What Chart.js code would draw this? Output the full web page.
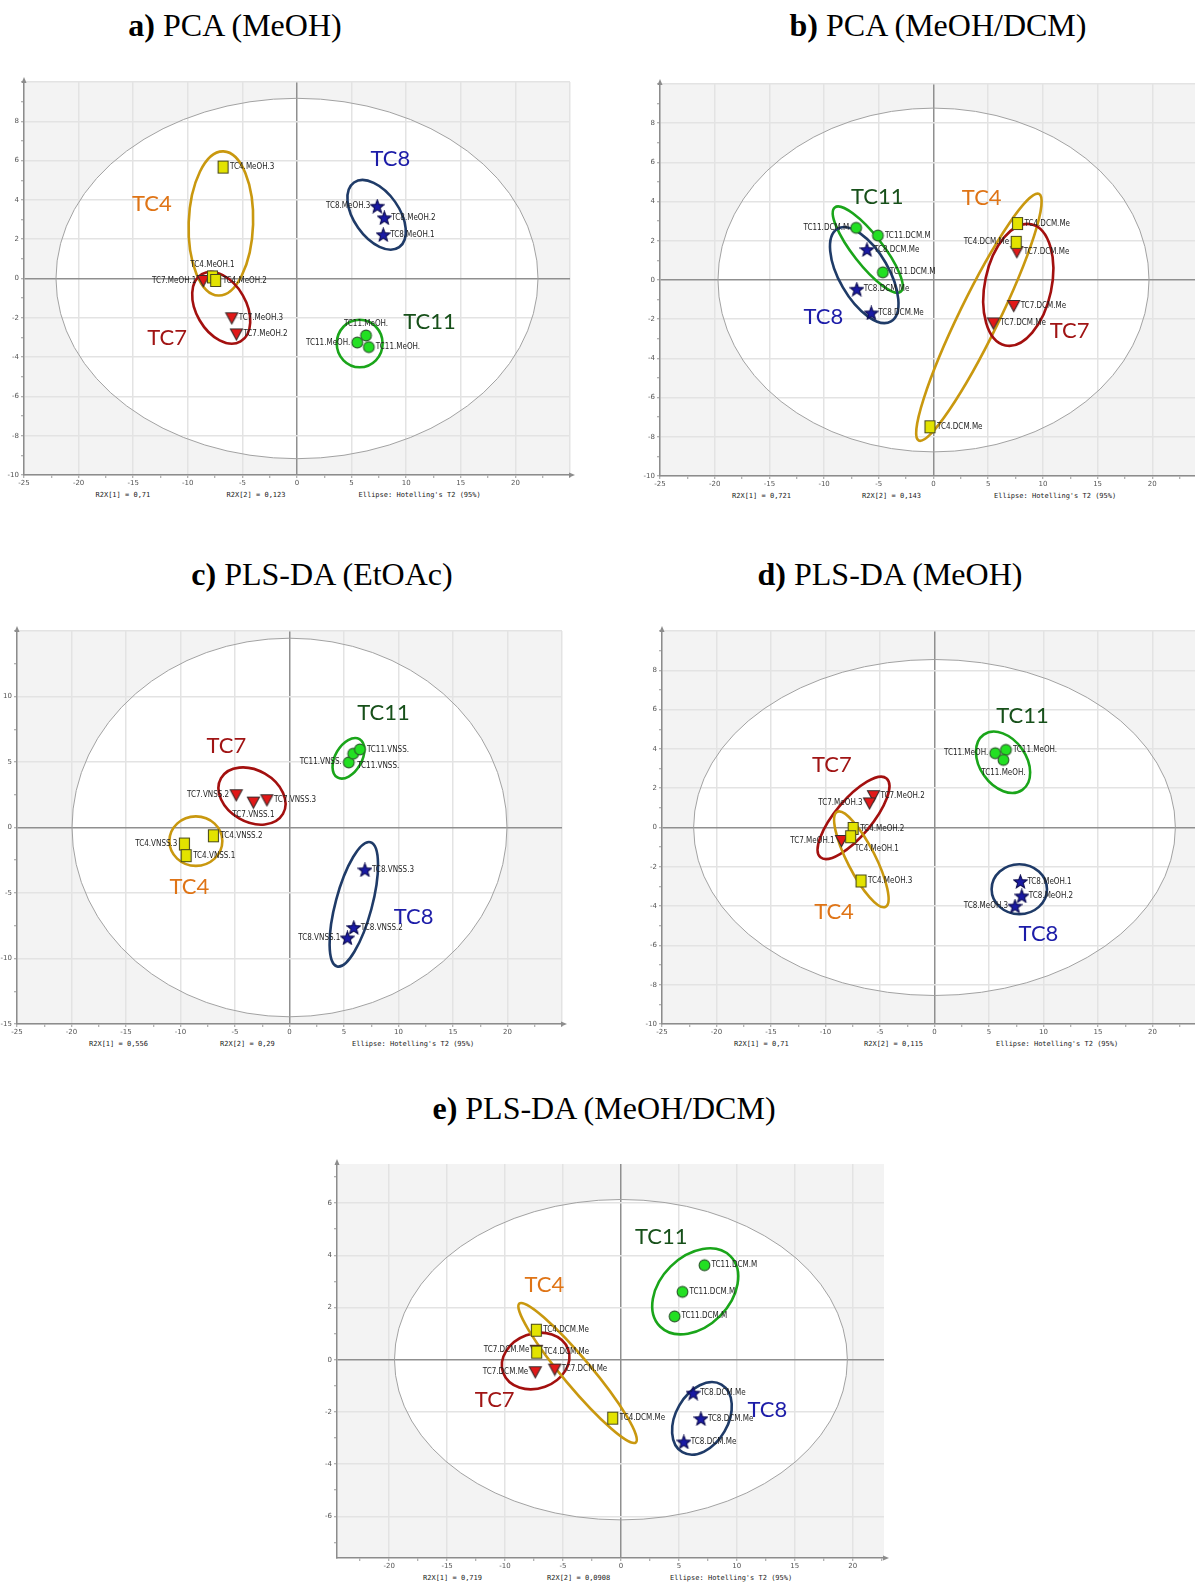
<!DOCTYPE html>
<html>
<head>
<meta charset="utf-8">
<script src="https://cdn.jsdelivr.net/npm/chart.js@4.4.1/dist/chart.umd.min.js"></script>
<style>
  html, body { margin: 0; padding: 0; background: #fff; overflow: hidden; }
  body { width: 1195px; height: 1586px; position: relative; }
  .title { position: absolute; font-family: "Liberation Serif", "Times New Roman", serif; font-size: 32px;
           line-height: 36px; color: #000; white-space: nowrap; transform: translateX(-50%); }
  .panel { position: absolute; }
  .stat { position: absolute; font-family: "DejaVu Sans Mono", "Liberation Mono", monospace; font-size: 7px;
          line-height: 8px; color: #222; white-space: nowrap; }
</style>
</head>
<body>
<div class="title" style="left:235px;top:7px"><b>a)</b> PCA (MeOH)</div>
<div class="title" style="left:938px;top:7px"><b>b)</b> PCA (MeOH/DCM)</div>
<div class="title" style="left:322px;top:556px"><b>c)</b> PLS-DA (EtOAc)</div>
<div class="title" style="left:890px;top:556px"><b>d)</b> PLS-DA (MeOH)</div>
<div class="title" style="left:604px;top:1090px"><b>e)</b> PLS-DA (MeOH/DCM)</div>
<canvas id="pa" class="panel"></canvas>
<canvas id="pb" class="panel"></canvas>
<canvas id="pc" class="panel"></canvas>
<canvas id="pd" class="panel"></canvas>
<canvas id="pe" class="panel"></canvas>

<script>
// ---- scores (t[1], t[2]) ----
// a) PCA MeOH
const aX = [-6.77, -7.74, -7.45, -8.58, -5.97, -5.55, 7.35, 8.0, 7.9, 5.52, 6.32, 6.58];
const aY = [5.67, 0.08, -0.10, -0.10, -2.0, -2.82, 3.68, 3.09, 2.23, -3.26, -2.9, -3.49];
const aGroup = ['TC4', 'TC4', 'TC4', 'TC7', 'TC7', 'TC7', 'TC8', 'TC8', 'TC8', 'TC11', 'TC11', 'TC11'];
const aName = ['TC4.MeOH.3', 'TC4.MeOH.1', 'TC4.MeOH.2', 'TC7.MeOH.1', 'TC7.MeOH.3', 'TC7.MeOH.2',
  'TC8.MeOH.3', 'TC8.MeOH.2', 'TC8.MeOH.1', 'TC11.MeOH.', 'TC11.MeOH.', 'TC11.MeOH.'];
const aR2X = ['0,71', '0,123'];
const aT2 = [22.07, 9.17];

// b) PCA MeOH/DCM
const bX = [-7.07, -5.08, -4.63, -6.08, -7.01, -5.69, 7.68, 7.56, -0.32, 7.62, 7.33, 5.47];
const bY = [2.66, 2.27, 0.39, 1.55, -0.47, -1.68, 2.88, 1.92, -7.49, 1.45, -1.30, -2.19];
const bGroup = ['TC11', 'TC11', 'TC11', 'TC8', 'TC8', 'TC8', 'TC4', 'TC4', 'TC4', 'TC7', 'TC7', 'TC7'];
const bName = ['TC11.DCM.M', 'TC11.DCM.M', 'TC11.DCM.M', 'TC8.DCM.Me', 'TC8.DCM.Me', 'TC8.DCM.Me',
  'TC4.DCM.Me', 'TC4.DCM.Me', 'TC4.DCM.Me', 'TC7.DCM.Me', 'TC7.DCM.Me', 'TC7.DCM.Me'];
const bR2X = ['0,721', '0,143'];
const bT2 = [19.7, 8.77];

// c) PLS-DA EtOAc
const cX = [5.44, 5.84, 6.46, -4.89, -3.31, -2.07, -6.98, -9.64, -9.48, 6.92, 5.9, 5.31];
const cY = [4.97, 5.63, 5.96, 2.5, 1.94, 2.12, -0.63, -1.26, -2.15, -3.23, -7.63, -8.43];
const cGroup = ['TC11', 'TC11', 'TC11', 'TC7', 'TC7', 'TC7', 'TC4', 'TC4', 'TC4', 'TC8', 'TC8', 'TC8'];
const cName = ['TC11.VNSS.', 'TC11.VNSS.', 'TC11.VNSS.', 'TC7.VNSS.2', 'TC7.VNSS.1', 'TC7.VNSS.3',
  'TC4.VNSS.2', 'TC4.VNSS.3', 'TC4.VNSS.1', 'TC8.VNSS.3', 'TC8.VNSS.2', 'TC8.VNSS.1'];
const cR2X = ['0,556', '0,29'];
const cT2 = [19.95, 14.45];

// d) PLS-DA MeOH
const dX = [5.57, 6.55, 6.32, -5.6, -5.96, -8.53, -7.46, -7.69, -6.74, 7.88, 8.01, 7.39];
const dY = [3.78, 3.95, 3.44, 1.62, 1.25, -0.66, -0.05, -0.47, -2.72, -2.75, -3.48, -4.0];
const dGroup = ['TC11', 'TC11', 'TC11', 'TC7', 'TC7', 'TC7', 'TC4', 'TC4', 'TC4', 'TC8', 'TC8', 'TC8'];
const dName = ['TC11.MeOH.', 'TC11.MeOH.', 'TC11.MeOH.', 'TC7.MeOH.2', 'TC7.MeOH.3', 'TC7.MeOH.1',
  'TC4.MeOH.2', 'TC4.MeOH.1', 'TC4.MeOH.3', 'TC8.MeOH.1', 'TC8.MeOH.2', 'TC8.MeOH.3'];
const dR2X = ['0,71', '0,115'];
const dT2 = [22.1, 8.55];

// e) PLS-DA MeOH/DCM
const eX = [7.21, 5.31, 4.63, -7.3, -7.27, -0.71, -7.3, -7.39, -5.71, 6.23, 6.9, 5.43];
const eY = [3.62, 2.6, 1.66, 1.13, 0.29, -2.24, 0.36, -0.46, -0.36, -1.28, -2.26, -3.15];
const eGroup = ['TC11', 'TC11', 'TC11', 'TC4', 'TC4', 'TC4', 'TC7', 'TC7', 'TC7', 'TC8', 'TC8', 'TC8'];
const eName = ['TC11.DCM.M', 'TC11.DCM.M', 'TC11.DCM.M', 'TC4.DCM.Me', 'TC4.DCM.Me', 'TC4.DCM.Me',
  'TC7.DCM.Me', 'TC7.DCM.Me', 'TC7.DCM.Me', 'TC8.DCM.Me', 'TC8.DCM.Me', 'TC8.DCM.Me'];
const eR2X = ['0,719', '0,0908'];
const eT2 = [19.54, 6.14];

// ---- hand drawn group rings: group, centre x, centre y (data), radius x, radius y (data units), tilt deg ----
const aRings = [['TC4', -6.97, 2.8, 2.95, 3.67, 2], ['TC7', -6.94, -1.49, 3.55, 1.27, 60],
  ['TC8', 7.29, 3.24, 3.61, 1.15, 55], ['TC11', 5.74, -3.31, 2.1, 1.21, 0]];
const bRings = [['TC11', -6.01, 1.55, 4.89, 0.76, 52], ['TC8', -6.33, 0.25, 4.89, 1.26, 60],
  ['TC4', 4.15, -1.9, 12.54, 1.01, -64], ['TC7', 7.75, -0.25, 5.66, 1.7, -78]];
const cRings = [['TC11', 5.41, 5.28, 2.03, 1.01, -60], ['TC7', -3.44, 2.4, 3.28, 1.97, 30],
  ['TC4', -8.59, -1.04, 2.43, 1.89, 0], ['TC8', 5.9, -5.86, 5.9, 1.39, -75]];
const dRings = [['TC11', 6.29, 3.32, 3.09, 1.18, 55], ['TC7', -7.43, 0.49, 4.72, 0.93, -50],
  ['TC4', -6.71, -1.62, 4.89, 0.71, 63], ['TC8', 7.78, -3.14, 2.54, 1.27, 0]];
const eRings = [['TC11', 6.41, 2.62, 4.29, 1.34, -45], ['TC7', -7.36, -0.05, 2.98, 1.05, -20],
  ['TC4', -3.74, -0.51, 7.82, 0.54, 50], ['TC8', 6.99, -2.25, 3.37, 1.0, -60]];

// group names written on the plots
const aTags = [['TC8', 8.55, 6.08], ['TC4', -13.29, 3.81], ['TC7', -11.9, -3.02], ['TC11', 12.13, -2.23]];
const bTags = [['TC11', -5.14, 4.26], ['TC4', 4.41, 4.21], ['TC8', -10.06, -1.89], ['TC7', 12.44, -2.59]];
const cTags = [['TC11', 8.62, 8.76], ['TC7', -5.8, 6.21], ['TC4', -9.18, -4.57], ['TC8', 11.38, -6.84]];
const dTags = [['TC11', 8.08, 5.7], ['TC7', -9.41, 3.17], ['TC4', -9.22, -4.29], ['TC8', 9.54, -5.42]];
const eTags = [['TC11', 3.47, 4.69], ['TC4', -6.6, 2.85], ['TC7', -10.89, -1.53], ['TC8', 12.64, -1.94]];

// where each point label sits (r right, l left, t top, b below, br below right)
const aSide = ['r', 't', 'r', 'l', 'r', 'r', 'l', 'r', 'r', 'l', 't', 'r'];
const bSide = ['l', 'r', 'r', 'r', 'r', 'r', 'r', 'l', 'r', 'r', 'r', 'r'];
const cSide = ['l', 'br', 'r', 'l', 'b', 'r', 'r', 'l', 'r', 'r', 'r', 'l'];
const dSide = ['l', 'r', 'b', 'r', 'l', 'l', 'r', 'br', 'r', 'r', 'r', 'l'];
const eSide = ['r', 'r', 'r', 'r', 'r', 'r', 'l', 'l', 'r', 'r', 'r', 'r'];

// ---- styles ----
const ringColor = { TC4: '#c9980f', TC7: '#a3100f', TC8: '#1f3b68', TC11: '#1aa51a' };
const tagColor = { TC4: '#df7416', TC7: '#a01414', TC8: '#1c1ca8', TC11: '#17501a' };
const groupOrder = ['TC4', 'TC11', 'TC8', 'TC7'];

function marker(kind) {
  const c = document.createElement('canvas');
  c.width = 15; c.height = 15;
  const g = c.getContext('2d');
  g.lineWidth = 1.1;
  g.beginPath();
  if (kind === 'TC4') {
    g.rect(2.5, 1.5, 10, 12);
    g.fillStyle = '#e3e300'; g.strokeStyle = '#4a4a1c';
  } else if (kind === 'TC7') {
    g.moveTo(1.5, 2.5); g.lineTo(13.5, 2.5); g.lineTo(7.5, 13.5); g.closePath();
    g.fillStyle = '#e11818'; g.strokeStyle = '#3c2a2a';
  } else if (kind === 'TC8') {
    for (let i = 0; i < 10; i++) {
      const r = i % 2 ? 3 : 7;
      const a = -Math.PI / 2 + i * Math.PI / 5;
      const px = 7.5 + r * Math.cos(a), py = 8.1 + r * Math.sin(a);
      if (i) g.lineTo(px, py); else g.moveTo(px, py);
    }
    g.closePath();
    g.fillStyle = '#1a1aa4'; g.strokeStyle = '#0c0c50';
  } else {
    g.arc(7.5, 7.5, 5.4, 0, Math.PI * 2);
    g.fillStyle = '#22e022'; g.strokeStyle = '#2a5a2a';
  }
  g.fill(); g.stroke();
  return c;
}
const markers = {};
['TC4', 'TC7', 'TC8', 'TC11'].forEach(k => markers[k] = marker(k));

const scorePlot = {
  id: 'scorePlot',
  beforeDraw(chart, args, o) {
    const { ctx, chartArea: ar, scales: { x, y } } = chart;
    ctx.save();
    ctx.fillStyle = '#f3f3f3';
    ctx.fillRect(ar.left, ar.top, ar.right - ar.left, ar.bottom - ar.top);
    const ux = Math.abs(x.getPixelForValue(1) - x.getPixelForValue(0));
    const uy = Math.abs(y.getPixelForValue(1) - y.getPixelForValue(0));
    ctx.beginPath();
    ctx.ellipse(x.getPixelForValue(0), y.getPixelForValue(0), o.t2[0] * ux, o.t2[1] * uy, 0, 0, Math.PI * 2);
    ctx.fillStyle = '#fff';
    ctx.fill();
    ctx.restore();
  },
  beforeDatasetsDraw(chart, args, o) {
    const { ctx, chartArea: ar, scales: { x, y } } = chart;
    const ux = Math.abs(x.getPixelForValue(1) - x.getPixelForValue(0));
    const uy = Math.abs(y.getPixelForValue(1) - y.getPixelForValue(0));
    ctx.save();
    // Hotelling T2 ellipse
    ctx.beginPath();
    ctx.ellipse(x.getPixelForValue(0), y.getPixelForValue(0), o.t2[0] * ux, o.t2[1] * uy, 0, 0, Math.PI * 2);
    ctx.strokeStyle = '#a2a2a2'; ctx.lineWidth = 1;
    ctx.stroke();
    // axis arrows
    ctx.fillStyle = '#8c8c8c';
    ctx.beginPath();
    ctx.moveTo(ar.left, ar.top - 5); ctx.lineTo(ar.left - 2.5, ar.top + 1); ctx.lineTo(ar.left + 2.5, ar.top + 1);
    ctx.fill();
    ctx.beginPath();
    ctx.moveTo(ar.right + 5, ar.bottom); ctx.lineTo(ar.right - 1, ar.bottom - 2.5); ctx.lineTo(ar.right - 1, ar.bottom + 2.5);
    ctx.fill();
    // group rings
    ctx.lineWidth = 2.6;
    o.rings.forEach(r => {
      ctx.beginPath();
      ctx.ellipse(x.getPixelForValue(r[1]), y.getPixelForValue(r[2]), r[3] * ux, r[4] * uy,
        r[5] * Math.PI / 180, 0, Math.PI * 2);
      ctx.strokeStyle = ringColor[r[0]];
      ctx.stroke();
    });
    ctx.restore();
  },
  afterDatasetsDraw(chart, args, o) {
    const { ctx, scales: { x, y } } = chart;
    ctx.save();
    ctx.font = '8px "Liberation Sans Narrow", "DejaVu Sans Condensed", "Liberation Sans", sans-serif';
    ctx.fillStyle = '#1e1e1e';
    ctx.textBaseline = 'middle';
    o.X.forEach((v, i) => {
      const px = x.getPixelForValue(v), py = y.getPixelForValue(o.Y[i]);
      const s = o.side[i];
      if (s === 'r') { ctx.textAlign = 'left'; ctx.fillText(o.N[i], px + 7, py); }
      else if (s === 'l') { ctx.textAlign = 'right'; ctx.fillText(o.N[i], px - 7, py); }
      else if (s === 't') { ctx.textAlign = 'center'; ctx.fillText(o.N[i], px, py - 12); }
      else if (s === 'b') { ctx.textAlign = 'center'; ctx.fillText(o.N[i], px, py + 13); }
      else { ctx.textAlign = 'left'; ctx.fillText(o.N[i], px + 4, py + 12); }
    });
    ctx.font = '22px Lato, "Open Sans", sans-serif';
    ctx.textAlign = 'center';
    o.tags.forEach(t => {
      ctx.fillStyle = tagColor[t[0]];
      ctx.fillText(t[0], x.getPixelForValue(t[1]), y.getPixelForValue(t[2]));
    });
    ctx.restore();
  }
};

function stepTicks(lo, hi, step) {
  const out = [];
  const h = step / 2;
  for (let v = Math.ceil(lo / h - 1e-9) * h; v <= hi + 1e-9; v += h) out.push(+v.toFixed(4));
  return out;
}

function axis(lo, hi, step, isY, fix) {
  const major = v => Math.abs(v / step - Math.round(v / step)) < 1e-6;
  return {
    type: 'linear', min: lo, max: hi,
    afterBuildTicks: s => { s.ticks = stepTicks(lo, hi, step).map(v => ({ value: v })); },
    afterFit: s => { if (isY) s.width = fix; else s.height = fix; },
    ticks: {
      autoSkip: false, maxRotation: 0, padding: isY ? 2 : 1,
      font: { size: 7, family: 'DejaVu Sans' }, color: '#555',
      callback: v => (major(v) && Math.abs(v - hi) > 1e-6) ? String(v) : ''
    },
    grid: {
      drawTicks: true, tickLength: 3,
      color: c => !c.tick ? 'rgba(0,0,0,0)' : (c.tick.value === 0 ? '#8f8f8f' : (major(c.tick.value) ? '#e3e3e3' : 'rgba(0,0,0,0)')),
      lineWidth: 1.5,
      tickColor: '#9a9a9a', tickWidth: 1
    },
    border: { display: true, color: '#8c8c8c', width: 1.5 }
  };
}

function buildPanel(p) {
  const padL = 24, padT = 6, padR = 8, padB = 13;
  const W = Math.round(p.box.r - p.box.l + padL + padR);
  const H = Math.round(p.box.b - p.box.t + padT + padB);
  const cv = document.getElementById(p.id);
  cv.width = W; cv.height = H;
  cv.style.width = W + 'px'; cv.style.height = H + 'px';
  cv.style.left = (p.box.l - padL) + 'px'; cv.style.top = (p.box.t - padT) + 'px';

  const datasets = groupOrder.map(g => ({
    label: g,
    data: p.X.map((v, i) => ({ x: v, y: p.Y[i], g: p.G[i] })).filter(d => d.g === g),
    pointStyle: markers[g],
    pointRadius: 7,
    showLine: false,
    clip: false
  }));

  new Chart(cv.getContext('2d'), {
    type: 'scatter',
    data: { datasets },
    options: {
      responsive: false, animation: false, events: [],
      layout: { padding: { top: padT, right: padR, left: 0, bottom: 0 } },
      plugins: {
        legend: { display: false }, tooltip: { enabled: false },
        scorePlot: { t2: p.t2, rings: p.rings, tags: p.tags, X: p.X, Y: p.Y, N: p.N, side: p.side }
      },
      scales: {
        x: axis(p.xr[0], p.xr[1], 5, false, padB),
        y: axis(p.yr[0], p.yr[1], p.ys, true, padL)
      }
    },
    plugins: [scorePlot]
  });

  const texts = ['R2X[1] = ' + p.r2x[0], 'R2X[2] = ' + p.r2x[1], "Ellipse: Hotelling's T2 (95%)"];
  texts.forEach((t, i) => {
    const d = document.createElement('div');
    d.className = 'stat';
    d.textContent = t;
    d.style.left = (p.box.l + p.statX[i]) + 'px';
    d.style.top = (p.box.b + 16) + 'px';
    document.body.appendChild(d);
  });
}

const panels = [
  { id: 'pa', box: { l: 23.5, t: 80, r: 569, b: 475 }, xr: [-25, 25], yr: [-10, 10], ys: 2,
    X: aX, Y: aY, G: aGroup, N: aName, side: aSide, rings: aRings, tags: aTags, t2: aT2, r2x: aR2X, statX: [72, 203, 335] },
  { id: 'pb', box: { l: 660, t: 81.7, r: 1207, b: 475.7 }, xr: [-25, 25], yr: [-10, 10], ys: 2,
    X: bX, Y: bY, G: bGroup, N: bName, side: bSide, rings: bRings, tags: bTags, t2: bT2, r2x: bR2X, statX: [72, 202, 334] },
  { id: 'pc', box: { l: 17, t: 629, r: 562, b: 1024 }, xr: [-25, 25], yr: [-15, 15], ys: 5,
    X: cX, Y: cY, G: cGroup, N: cName, side: cSide, rings: cRings, tags: cTags, t2: cT2, r2x: cR2X, statX: [72, 203, 335] },
  { id: 'pd', box: { l: 662, t: 629, r: 1207, b: 1024 }, xr: [-25, 25], yr: [-10, 10], ys: 2,
    X: dX, Y: dY, G: dGroup, N: dName, side: dSide, rings: dRings, tags: dTags, t2: dT2, r2x: dR2X, statX: [72, 202, 334] },
  { id: 'pe', box: { l: 337, t: 1162, r: 884, b: 1558 }, xr: [-24.5, 22.7], yr: [-7.6, 7.5], ys: 2,
    X: eX, Y: eY, G: eGroup, N: eName, side: eSide, rings: eRings, tags: eTags, t2: eT2, r2x: eR2X, statX: [86, 210, 333] }
];

panels.forEach(buildPanel);
</script>
</body>
</html>
